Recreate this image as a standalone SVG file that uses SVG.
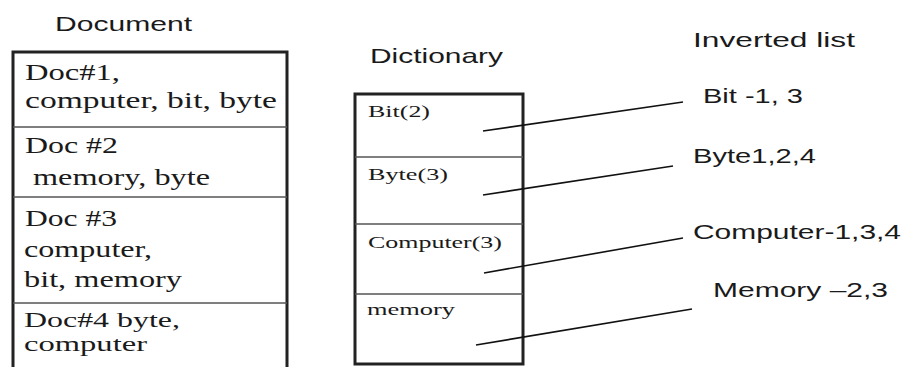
<svg xmlns="http://www.w3.org/2000/svg" width="903" height="367" viewBox="0 0 903 367">
<style>
.bg{fill:#ffffff}
.outer{fill:none;stroke:#222;stroke-width:3}
.sep{stroke:#555;stroke-width:1.5}
.serif{font-family:"Liberation Serif","Times New Roman",serif;font-size:24px;fill:#1a1a1a}
.serif-r4{font-family:"Liberation Serif","Times New Roman",serif;font-size:21px;fill:#1a1a1a}
.serif-s{font-family:"Liberation Serif","Times New Roman",serif;font-size:17px;fill:#1a1a1a}
.sans{font-family:"Liberation Sans",Arial,sans-serif;font-size:21px;fill:#1a1a1a}
.conn{stroke:#111;stroke-width:1.6;fill:none}
</style>
<rect class="bg" x="0" y="0" width="903" height="367"/>

<g id="document">
  <text class="sans" x="55" y="31" textLength="137" lengthAdjust="spacingAndGlyphs">Document</text>
  <path class="outer" d="M13,370 V52 H287 V370"/>
  <line class="sep" x1="13" y1="127" x2="287" y2="127"/>
  <line class="sep" x1="13" y1="197" x2="287" y2="197"/>
  <line class="sep" x1="13" y1="303" x2="287" y2="303"/>
</g>
<g id="doc1">
  <text class="serif" x="25" y="80" textLength="95" lengthAdjust="spacingAndGlyphs">Doc#1,</text>
  <text class="serif" x="25" y="108" textLength="252" lengthAdjust="spacingAndGlyphs">computer, bit, byte</text>
</g>
<g id="doc2">
  <text class="serif" x="25" y="153" textLength="93" lengthAdjust="spacingAndGlyphs">Doc #2</text>
  <text class="serif" x="33" y="185" textLength="177" lengthAdjust="spacingAndGlyphs">memory, byte</text>
</g>
<g id="doc3">
  <text class="serif" x="25" y="226" textLength="92" lengthAdjust="spacingAndGlyphs">Doc #3</text>
  <text class="serif" x="24" y="257" textLength="128" lengthAdjust="spacingAndGlyphs">computer,</text>
  <text class="serif" x="24" y="287" textLength="158" lengthAdjust="spacingAndGlyphs">bit, memory</text>
</g>
<g id="doc4">
  <text class="serif-r4" x="24" y="327" textLength="156" lengthAdjust="spacingAndGlyphs">Doc#4 byte,</text>
  <text class="serif-r4" x="24" y="351" textLength="123" lengthAdjust="spacingAndGlyphs">computer</text>
</g>

<g id="dictionary">
  <text class="sans" x="370" y="63" textLength="133" lengthAdjust="spacingAndGlyphs">Dictionary</text>
  <rect class="outer" x="355" y="94" width="168" height="270"/>
  <line class="sep" x1="355" y1="157" x2="523" y2="157"/>
  <line class="sep" x1="355" y1="224" x2="523" y2="224"/>
  <line class="sep" x1="355" y1="294" x2="523" y2="294"/>
</g>
<g id="dict-bit"><text class="serif-s" x="368" y="117" textLength="62" lengthAdjust="spacingAndGlyphs">Bit(2)</text></g>
<g id="dict-byte"><text class="serif-s" x="368" y="180" textLength="80" lengthAdjust="spacingAndGlyphs">Byte(3)</text></g>
<g id="dict-computer"><text class="serif-s" x="368" y="248" textLength="134" lengthAdjust="spacingAndGlyphs">Computer(3)</text></g>
<g id="dict-memory"><text class="serif-s" x="367" y="315" textLength="88" lengthAdjust="spacingAndGlyphs">memory</text></g>

<g id="inverted-title"><text class="sans" x="693" y="47" textLength="162" lengthAdjust="spacingAndGlyphs">Inverted list</text></g>
<g id="inv-bit"><text class="sans" x="703" y="103" textLength="100" lengthAdjust="spacingAndGlyphs">Bit -1, 3</text></g>
<g id="inv-byte"><text class="sans" x="693" y="163" textLength="123" lengthAdjust="spacingAndGlyphs">Byte1,2,4</text></g>
<g id="inv-computer"><text class="sans" x="693" y="239" textLength="208" lengthAdjust="spacingAndGlyphs">Computer-1,3,4</text></g>
<g id="inv-memory"><text class="sans" x="713" y="297" textLength="175" lengthAdjust="spacingAndGlyphs">Memory –2,3</text></g>

<g id="connectors">
  <line class="conn" x1="483" y1="131" x2="683" y2="102"/>
  <line class="conn" x1="483" y1="195" x2="673" y2="166"/>
  <line class="conn" x1="484" y1="273" x2="683" y2="238"/>
  <line class="conn" x1="476" y1="345" x2="692" y2="309"/>
</g>
</svg>
